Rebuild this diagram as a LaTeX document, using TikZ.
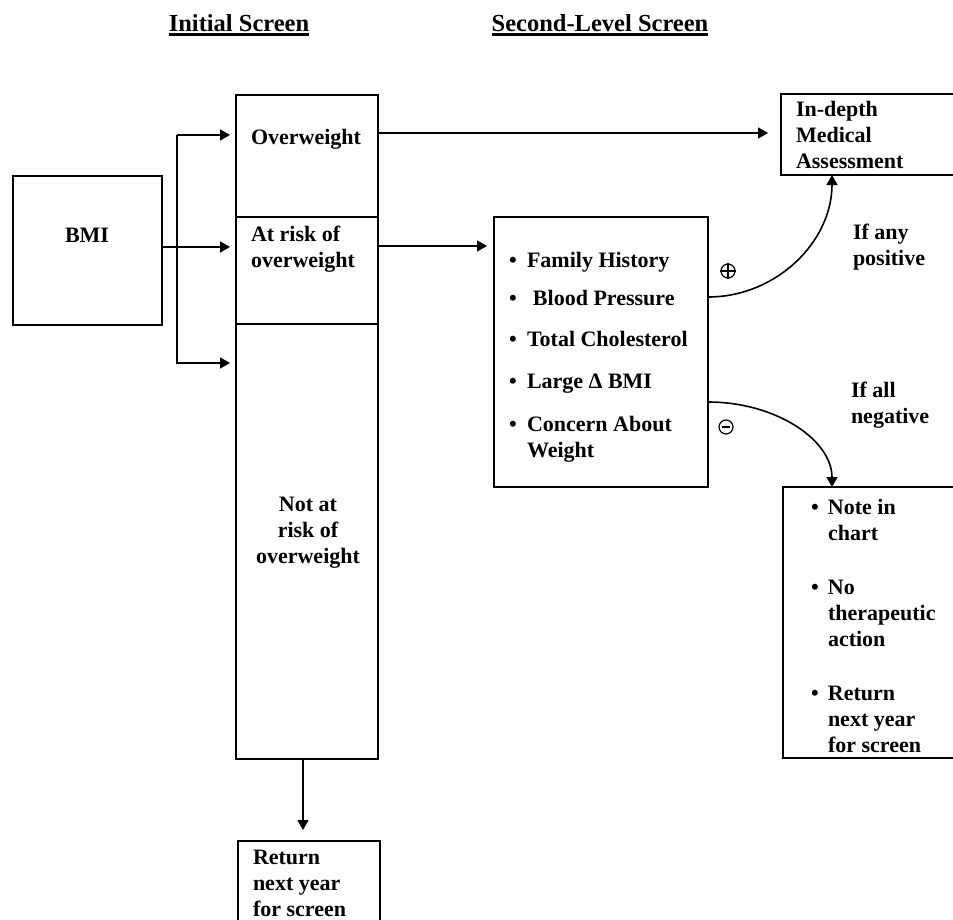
\documentclass[tikz,border=0pt]{standalone}
\usepackage{fontspec}
\setmainfont{Liberation Serif}
\usetikzlibrary{arrows.meta,calc}
\newcommand\mybul{\makebox[18pt][l]{\textbullet}}
\newcommand\nbul{\makebox[17pt][l]{\textbullet}}
\begin{document}
\begin{tikzpicture}[x=1pt,y=-1pt,
  box/.style={draw, line width=1.6pt, inner sep=0pt, outer sep=0pt},
  txt/.style={inner sep=0pt, outer sep=0pt, font=\fontsize{22}{25.8}\selectfont\bfseries, align=left},
  ctxt/.style={txt, align=center},
  head/.style={inner sep=0pt, outer sep=0pt, font=\fontsize{24.5}{28}\selectfont\bfseries, anchor=base},
  conn/.style={line width=1.6pt},
  arr/.style={conn, -{Triangle[length=10pt,width=11pt]}},
  sign/.style={circle, draw, line width=1.2pt, minimum size=14pt, inner sep=0pt}
  ]
\useasboundingbox (0,0) rectangle (953,919);
\clip (0,0) rectangle (953,919);

% headings
\node[head] (h1) at (239,31) {Initial Screen};
\node[head] (h2) at (600,31) {Second-Level Screen};
\draw[line width=2.2pt] ($(h1.base west)+(0,3.5)$) -- ($(h1.base east)+(0,3.5)$);
\draw[line width=2.2pt] ($(h2.base west)+(0,3.5)$) -- ($(h2.base east)+(0,3.5)$);

% boxes
\node[box, minimum width=149pt, minimum height=149pt] (bmi) at (87.5,250.5) {};
\node[box, minimum width=142pt, minimum height=122pt] (ow) at (307,156) {};
\node[box, minimum width=142pt, minimum height=107pt] (risk) at (307,270.5) {};
\node[box, minimum width=142pt, minimum height=435pt] (notrisk) at (307,541.5) {};
\node[box, minimum width=214pt, minimum height=270pt] (sl) at (601,352) {};
\node[box, minimum width=229pt, minimum height=81pt] (ind) at (895.5,134.5) {};
\node[box, minimum width=227pt, minimum height=271pt] (note) at (896.5,622.5) {};
\node[box, minimum width=142pt, minimum height=159pt] (ret) at (309,920.5) {};

% texts (base anchor of a multi-line node = baseline of its last line)
\node[txt, anchor=base] (tbmi) at (87,242) {BMI};
\node[txt, anchor=base west] (tow) at (251,144) {Overweight};
\node[txt, anchor=base west] (trisk) at (251,267) {At risk of\\overweight};
\node[ctxt, anchor=base] (tnot) at (308,563) {Not at\\risk of\\overweight};
\node[txt, anchor=base west] (tind) at (796,168) {In-depth\\Medical\\Assessment};
\node[txt, anchor=base west] (i1) at (509,267) {\mybul Family History};
\node[txt, anchor=base west] (i2) at (509,305) {\makebox[24pt][l]{\textbullet}Blood Pressure};
\node[txt, anchor=base west] (i3) at (509,346) {\mybul Total Cholesterol};
\node[txt, anchor=base west] (i4) at (509,388) {\mybul Large Δ BMI};
\node[txt, anchor=base west] (i5) at (509,457) {\mybul Concern About\\\hspace*{18pt}Weight};
\node[txt, anchor=base west] (n1) at (811,540) {\nbul Note in\\\hspace*{17pt}chart};
\node[txt, anchor=base west] (n2) at (811,646) {\nbul No\\\hspace*{17pt}therapeutic\\\hspace*{17pt}action};
\node[txt, anchor=base west] (n3) at (811,752) {\nbul Return\\\hspace*{17pt}next year\\\hspace*{17pt}for screen};
\node[txt, anchor=base west] (tret) at (253,916) {Return\\next year\\for screen};
\node[txt, anchor=base west] (tpos) at (853,265) {If any\\positive};
\node[txt, anchor=base west] (tneg) at (851,423) {If all\\negative};

% signs
\node[sign] (plus) at (728,271) {};
\draw[line width=1.1pt] (plus.west) -- (plus.east) (plus.north) -- (plus.south);
\node[sign] (minus) at (726,427) {};
\draw[line width=2.6pt] ($(minus.west)+(3.5,0)$) -- ($(minus.east)+(-3.5,0)$);

% connectors
\coordinate (bt) at (177,135);
\coordinate (bb) at (177,363);
\draw[arr, shorten >=6pt] ($(bmi.north east)+(0,71)$) -- ($(risk.north west)+(0,30)$);
\draw[arr, shorten >=6pt] (bt) -- (bt -| ow.west);
\draw[arr, shorten >=6pt] (bt) -- (bb) -- (bb -| notrisk.west);
\draw[arr, shorten >=13pt] ($(ow.north east)+(0,38)$) -- ($(ind.north west)+(0,39)$);
\draw[arr, shorten >=7pt] ($(risk.north east)+(0,29)$) -- ($(sl.north west)+(0,29)$);
\draw[arr, shorten >=11pt] ($(notrisk.south)+(-4,0)$) -- ($(ret.north)+(-6,0)$);
\draw[arr] ($(sl.north east)+(0,80)$) .. controls +(68,0) and +(0,67) .. ($(ind.south west)+(51,0)$);
\draw[arr] ($(sl.north east)+(0,185)$) .. controls +(68,0) and +(0,-47) .. ($(note.north west)+(49,0)$);
\end{tikzpicture}
\end{document}
